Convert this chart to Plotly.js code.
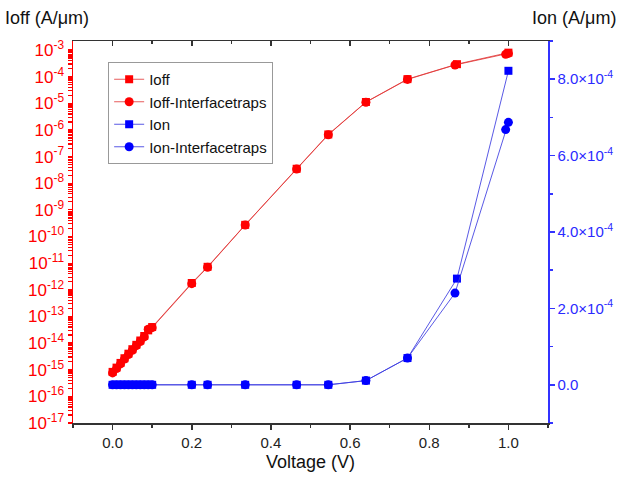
<!DOCTYPE html>
<html>
<head>
<meta charset="utf-8">
<script src="https://cdn.plot.ly/plotly-3.0.1.min.js"></script>
<style>html,body{margin:0;padding:0;background:#fff;}#chart{width:621px;height:489px;}</style>
</head>
<body>
<div id="chart"></div>
<script>
// Voltage values (V)
const voltage = [0, 0.01, 0.02, 0.03, 0.04, 0.05, 0.06, 0.07, 0.08, 0.09, 0.1, 0.2, 0.24, 0.335, 0.465, 0.545, 0.64, 0.745, 0.87, 1.0];
const voltageTraps = [0, 0.01, 0.02, 0.03, 0.04, 0.05, 0.06, 0.07, 0.08, 0.09, 0.1, 0.2, 0.24, 0.335, 0.465, 0.545, 0.64, 0.745, 0.865, 0.993, 1.0];
// Ioff (A/um), log axis
const ioff = [8.3e-16, 1.2e-15, 1.8e-15, 2.7e-15, 4.0e-15, 5.9e-15, 8.6e-15, 1.25e-14, 1.85e-14, 3.0e-14, 4.0e-14, 1.8e-12, 7.3e-12, 2.75e-10, 3.5e-8, 6.8e-7, 1.12e-5, 8.1e-5, 2.95e-4, 8.0e-4];
const ioffTraps = [7.6e-16, 1.1e-15, 1.65e-15, 2.5e-15, 3.7e-15, 5.4e-15, 8.0e-15, 1.15e-14, 1.7e-14, 3.3e-14, 3.8e-14, 1.7e-12, 7.0e-12, 2.7e-10, 3.4e-8, 6.6e-7, 1.1e-5, 7.9e-5, 2.75e-4, 6.9e-4, 7.5e-4];
// Ion (A/um), linear axis
const ion = [0, 0, 0, 0, 0, 0, 0, 0, 0, 0, 0, 0, 0, 0, 0, 0, 1.1e-5, 7.0e-5, 2.78e-4, 8.22e-4];
const ionTraps = [0, 0, 0, 0, 0, 0, 0, 0, 0, 0, 0, 0, 0, 0, 0, 0, 1.1e-5, 7.0e-5, 2.4e-4, 6.68e-4, 6.87e-4];
// Tick labels
const xTickVals = [0, 0.2, 0.4, 0.6, 0.8, 1.0];
const xTickText = ['0.0', '0.2', '0.4', '0.6', '0.8', '1.0'];
const ioffDecades = [-17, -16, -15, -14, -13, -12, -11, -10, -9, -8, -7, -6, -5, -4, -3];
const ionTickVals = [0, 2e-4, 4e-4, 6e-4, 8e-4];
const ionTickText = ['0.0', '2.0×10<sup>-4</sup>', '4.0×10<sup>-4</sup>', '6.0×10<sup>-4</sup>', '8.0×10<sup>-4</sup>'];
const seriesNames = ['Ioff', 'Ioff-Interfacetraps', 'Ion', 'Ion-Interfacetraps'];

// log-axis ticks: labelled decades plus unlabelled 2..9 minor positions
const logTickVals = [], logTickText = [];
ioffDecades.forEach(d => {
  logTickVals.push(Math.pow(10, d)); logTickText.push('10<sup>' + d + '</sup>');
  if (d < -3) for (let k = 2; k <= 9; k++) { logTickVals.push(k * Math.pow(10, d)); logTickText.push(''); }
});

const RED = '#ff0000', BLUE = '#0000ff';
const font = 'Liberation Sans, Arial, sans-serif';

const traces = [
  {x: voltage, y: ioff, name: seriesNames[0], type: 'scatter', mode: 'lines+markers', yaxis: 'y',
   line: {color: 'rgba(225,50,50,0.8)', width: 1}, marker: {symbol: 'square', size: 8, color: RED}},
  {x: voltageTraps, y: ioffTraps, name: seriesNames[1], type: 'scatter', mode: 'lines+markers', yaxis: 'y',
   line: {color: 'rgba(225,50,50,0.8)', width: 1}, marker: {symbol: 'circle', size: 9, color: RED}},
  {x: voltage, y: ion, name: seriesNames[2], type: 'scatter', mode: 'lines+markers', yaxis: 'y2',
   line: {color: 'rgba(60,60,225,0.85)', width: 1}, marker: {symbol: 'square', size: 8, color: BLUE}},
  {x: voltageTraps, y: ionTraps, name: seriesNames[3], type: 'scatter', mode: 'lines+markers', yaxis: 'y2',
   line: {color: 'rgba(60,60,225,0.85)', width: 1}, marker: {symbol: 'circle', size: 9, color: BLUE}},
  {x: [], y: [], xaxis: 'x2', yaxis: 'y', showlegend: false, hoverinfo: 'skip', type: 'scatter'}
];

const layout = {
  width: 621, height: 489,
  margin: {l: 73, r: 73, t: 41, b: 66},
  paper_bgcolor: '#fff', plot_bgcolor: '#fff',
  font: {family: font, size: 14, color: '#222'},
  showlegend: true,
  legend: {x: 0.074, y: 0.945, xanchor: 'left', yanchor: 'top', bgcolor: '#fff',
           bordercolor: '#999', borderwidth: 1, font: {family: font, size: 15, color: '#111'},
           tracegroupgap: 0},
  xaxis: {range: [-0.1, 1.1], tickvals: xTickVals, ticktext: xTickText, ticks: 'outside', ticklen: 5,
          tickwidth: 1.5, tickcolor: '#333', showline: true, linecolor: '#333', linewidth: 1.5,
          showgrid: false, zeroline: false, tickfont: {size: 15, color: '#222'},
          minor: {dtick: 0.1, tick0: 0, ticks: 'outside', ticklen: 3, tickcolor: '#333', showgrid: false},
          title: {text: 'Voltage (V)', font: {size: 18, color: '#111'}, standoff: 6}},
  xaxis2: {overlaying: 'x', anchor: 'y', side: 'top', range: [-0.1, 1.1], tickvals: xTickVals,
           showticklabels: false, ticks: 'inside', ticklen: 5, tickwidth: 1.5, tickcolor: '#333',
           showline: true, linecolor: '#333', linewidth: 1.5, showgrid: false, zeroline: false,
           minor: {dtick: 0.1, tick0: 0, ticks: 'inside', ticklen: 3, tickcolor: '#333', showgrid: false}},
  yaxis: {type: 'log', range: [-17, -2.66], tickmode: 'array', tickvals: logTickVals, ticktext: logTickText,
          ticks: 'outside', ticklen: 4, tickwidth: 1.2, tickcolor: RED, showline: true, linecolor: RED,
          linewidth: 1.5, showgrid: false, zeroline: false, tickfont: {size: 17, color: RED}},
  yaxis2: {overlaying: 'y', side: 'right', anchor: 'x', range: [-1e-4, 9e-4], tickvals: ionTickVals,
           ticktext: ionTickText, ticks: 'outside', ticklen: 5, tickwidth: 1.5, tickcolor: '#3333ff',
           showline: true, linecolor: '#3333ff', linewidth: 1.5, showgrid: false, zeroline: false,
           tickfont: {size: 15, color: '#2a2aff'},
           minor: {dtick: 1e-4, tick0: 0, ticks: 'outside', ticklen: 3, tickcolor: '#3333ff', showgrid: false}},
  annotations: [
    {text: 'Ioff (A/μm)', xref: 'paper', yref: 'paper', x: -0.147, y: 1.06, xanchor: 'left', yanchor: 'middle',
     showarrow: false, font: {size: 18, color: '#111'}},
    {text: 'Ion (A/μm)', xref: 'paper', yref: 'paper', x: 1.147, y: 1.06, xanchor: 'right', yanchor: 'middle',
     showarrow: false, font: {size: 18, color: '#111'}}
  ]
};

Plotly.newPlot('chart', traces, layout, {staticPlot: true, displayModeBar: false});
</script>
</body>
</html>
